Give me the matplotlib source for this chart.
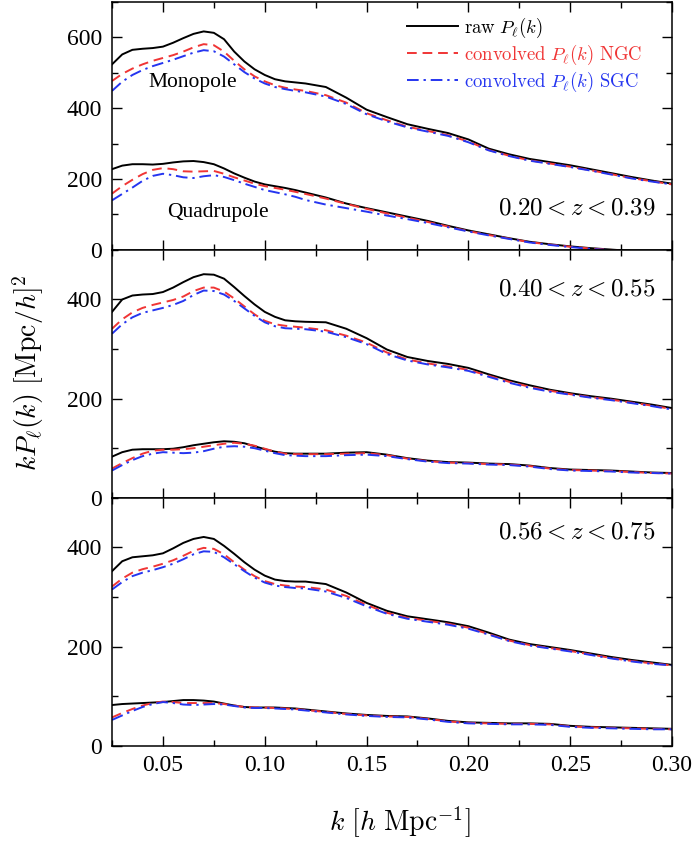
import matplotlib
matplotlib.use("Agg")
import matplotlib.pyplot as plt
from matplotlib.ticker import MultipleLocator

plt.rcParams['mathtext.fontset'] = 'cm'
plt.rcParams['font.family'] = ['Liberation Serif', 'DejaVu Serif']

k = [0.025, 0.030, 0.035, 0.040, 0.045, 0.050, 0.055, 0.060, 0.065, 0.070,
     0.075, 0.080, 0.085, 0.090, 0.095, 0.100, 0.105, 0.110, 0.115, 0.120,
     0.130, 0.140, 0.150, 0.160, 0.170, 0.180, 0.190, 0.200, 0.210, 0.220,
     0.230, 0.240, 0.250, 0.260, 0.270, 0.280, 0.290, 0.300]

# Panel 1: 0.20 < z < 0.39
p1_mono_raw = [524, 552, 565, 568, 570, 574, 585, 598, 610, 617, 613, 595, 560, 532, 510, 494, 482, 476, 473, 470,
               460, 430, 396, 375, 355, 342, 330, 312, 286, 270, 257, 248, 239, 228, 217, 206, 196, 187]
p1_mono_ngc = [477, 497, 512, 524, 534, 542, 550, 560, 572, 581, 578, 560, 534, 510, 490, 476, 465, 458, 453, 449,
               437, 416, 386, 366, 348, 336, 324, 306, 282, 266, 253, 244, 235, 225, 214, 203, 194, 185]
p1_mono_sgc = [449, 475, 494, 508, 519, 528, 537, 547, 557, 564, 561, 546, 524, 502, 484, 470, 460, 454, 449, 445,
               433, 412, 383, 363, 346, 334, 322, 304, 281, 265, 252, 243, 234, 224, 213, 202, 193, 185]
p1_quad_raw = [228, 238, 242, 242, 241, 243, 247, 250, 251, 248, 242, 230, 216, 204, 193, 185, 180, 175, 169, 162,
               148, 131, 118, 106, 94, 82, 68, 55, 44, 33, 23, 16, 10, 5, 1, -3, -8, -13]
p1_quad_ngc = [159, 180, 198, 214, 226, 231, 228, 222, 221, 222, 223, 215, 205, 196, 187, 180, 175, 170, 164, 158,
               145, 130, 116, 103, 91, 79, 66, 53, 42, 32, 22, 15, 9, 4, 0, -4, -9, -14]
p1_quad_sgc = [140, 158, 176, 195, 209, 215, 211, 205, 203, 208, 211, 206, 197, 187, 178, 169, 163, 157, 150, 141,
               128, 118, 108, 97, 87, 76, 64, 52, 41, 31, 21, 14, 8, 3, -1, -5, -10, -15]

# Panel 2: 0.40 < z < 0.55
p2_mono_raw = [375, 400, 408, 410, 411, 415, 424, 435, 445, 451, 450, 442, 425, 407, 390, 375, 365, 358, 356, 355,
               354, 341, 322, 299, 284, 276, 270, 262, 249, 237, 227, 218, 211, 205, 200, 194, 188, 181]
p2_mono_ngc = [341, 360, 374, 383, 389, 394, 399, 406, 417, 424, 424, 416, 402, 386, 370, 357, 350, 347, 345, 343,
               338, 327, 313, 293, 279, 271, 265, 258, 246, 234, 224, 216, 209, 203, 198, 192, 186, 179]
p2_mono_sgc = [331, 350, 364, 373, 378, 383, 389, 397, 409, 418, 417, 410, 397, 382, 367, 354, 346, 342, 341, 340,
               335, 324, 310, 290, 277, 269, 263, 256, 244, 232, 222, 214, 208, 202, 197, 191, 185, 178]
p2_quad_raw = [83, 92, 97, 98, 98, 98, 99, 102, 106, 109, 112, 114, 113, 110, 104, 98, 93, 90, 89, 89,
               89, 91, 92, 87, 80, 75, 72, 71, 69, 68, 65, 60, 57, 56, 55, 53, 51, 50]
p2_quad_ngc = [59, 70, 80, 89, 95, 97, 97, 98, 100, 103, 106, 109, 111, 109, 105, 99, 93, 89, 88, 88,
               88, 89, 90, 86, 79, 74, 71, 70, 68, 67, 64, 59, 56, 55, 54, 52, 50, 49]
p2_quad_sgc = [55, 66, 76, 84, 89, 92, 91, 90, 91, 94, 99, 103, 104, 103, 100, 95, 90, 86, 85, 84,
               84, 86, 87, 84, 78, 73, 70, 69, 67, 66, 63, 58, 55, 54, 53, 51, 50, 49]

# Panel 3: 0.56 < z < 0.75
p3_mono_raw = [352, 372, 380, 382, 384, 388, 398, 409, 417, 421, 417, 403, 387, 370, 355, 343, 335, 332, 331, 331,
               326, 309, 288, 272, 261, 255, 249, 241, 228, 214, 205, 199, 193, 186, 179, 173, 168, 163]
p3_mono_ngc = [321, 337, 349, 356, 361, 367, 374, 383, 393, 399, 397, 386, 370, 355, 342, 332, 326, 323, 321, 320,
               315, 302, 284, 268, 258, 252, 246, 238, 225, 212, 203, 197, 191, 184, 177, 171, 166, 162]
p3_mono_sgc = [315, 330, 342, 349, 354, 360, 367, 376, 386, 392, 391, 380, 366, 352, 339, 329, 323, 320, 318, 317,
               311, 298, 281, 266, 256, 250, 244, 236, 224, 211, 202, 196, 190, 183, 176, 170, 165, 162]
p3_quad_raw = [82, 84, 85, 86, 87, 88, 90, 92, 92, 91, 89, 85, 81, 78, 77, 77, 77, 76, 75, 73,
               69, 65, 62, 60, 59, 55, 50, 47, 46, 45, 45, 44, 40, 38, 37, 36, 35, 34]
p3_quad_ngc = [57, 66, 74, 81, 86, 89, 88, 86, 86, 86, 86, 84, 81, 78, 77, 77, 76, 75, 74, 72,
               68, 64, 61, 59, 58, 54, 49, 46, 45, 44, 44, 43, 39, 37, 36, 35, 34, 33]
p3_quad_sgc = [52, 61, 70, 78, 84, 88, 86, 83, 82, 83, 84, 83, 80, 77, 76, 76, 75, 74, 73, 71,
               67, 63, 60, 58, 57, 53, 48, 45, 44, 43, 43, 42, 38, 36, 35, 34, 33, 33]

z_labels = [r'$0.20 < z < 0.39$', r'$0.40 < z < 0.55$', r'$0.56 < z < 0.75$']
y_max = [700, 500, 500]
y_ticks = [[0, 200, 400, 600], [0, 200, 400], [0, 200, 400]]
x_ticks = [0.05, 0.10, 0.15, 0.20, 0.25, 0.30]
x_ticklabels = ['0.05', '0.10', '0.15', '0.20', '0.25', '0.30']

legend_labels = [r'$\mathrm{raw}\ P_\ell(k)$',
                 r'$\mathrm{convolved}\ P_\ell(k)\ \mathrm{NGC}$',
                 r'$\mathrm{convolved}\ P_\ell(k)\ \mathrm{SGC}$']

panels = [
    (p1_mono_raw, p1_mono_ngc, p1_mono_sgc, p1_quad_raw, p1_quad_ngc, p1_quad_sgc),
    (p2_mono_raw, p2_mono_ngc, p2_mono_sgc, p2_quad_raw, p2_quad_ngc, p2_quad_sgc),
    (p3_mono_raw, p3_mono_ngc, p3_mono_sgc, p3_quad_raw, p3_quad_ngc, p3_quad_sgc),
]

RED = '#f03535'
BLUE = '#2535f0'

fig = plt.figure(figsize=(6.98, 8.42), dpi=100)
left, right = 0.1605, 0.9628
bottom, top = 0.1144, 0.9976
h = (top - bottom) / 3.0
axes = []
for i in range(3):
    ax = fig.add_axes([left, top - (i + 1) * h, right - left, h])
    axes.append(ax)

label_y = [(249 - 208) / 247.0, (497.3 - 289) / 248.0, (745.7 - 533) / 247.0]

for i, (ax, data) in enumerate(zip(axes, panels)):
    mr, mn, ms, qr, qn, qs = data
    for raw, ngc, sgc in ((mr, mn, ms), (qr, qn, qs)):
        l1, = ax.plot(k, raw, color='black', lw=1.4, ls='-')
        l2, = ax.plot(k, ngc, color=RED, lw=1.4, ls=(0, (5, 3)))
        l3, = ax.plot(k, sgc, color=BLUE, lw=1.4, ls=(0, (6, 2.5, 1.2, 2.5)))
    ax.set_xlim(0.025, 0.30)
    ax.set_ylim(0, y_max[i])
    ax.set_yticks(y_ticks[i])
    ax.yaxis.set_minor_locator(MultipleLocator(100))
    ax.set_xticks(x_ticks)
    ax.xaxis.set_minor_locator(MultipleLocator(0.025))
    ax.tick_params(which='both', direction='in', top=True, right=True,
                   width=1.0, labelsize=17, pad=7)
    ax.tick_params(which='major', length=7)
    ax.tick_params(which='minor', length=4)
    for sp in ax.spines.values():
        sp.set_linewidth(1.1)
    if i < 2:
        ax.tick_params(labelbottom=False)
    else:
        ax.set_xticklabels(x_ticklabels)
    ax.text(0.9715, label_y[i], z_labels[i], transform=ax.transAxes,
            ha='right', va='center', fontsize=18)
    if i == 0:
        ax.text(0.0648, 472, 'Monopole', ha='center', va='center', fontsize=15.5)
        ax.text(0.0771, 105, 'Quadrupole', ha='center', va='center', fontsize=15.5)
        leg = ax.legend([l1, l2, l3], legend_labels, loc='upper right',
                        bbox_to_anchor=(0.9476, 0.945), frameon=False, fontsize=13.5,
                        handlelength=2.72, handletextpad=0.32, labelspacing=0.15,
                        borderaxespad=0.0, borderpad=0.0)
        for txt, c in zip(leg.get_texts(), ['black', RED, BLUE]):
            txt.set_color(c)

fig.text(0.04, 0.558, r'$kP_\ell(k)\ [\mathrm{Mpc}/h]^2$', rotation=90,
         ha='center', va='center', fontsize=20)
fig.text(0.573, 0.024, r'$k\ [h\ \mathrm{Mpc}^{-1}]$', ha='center', va='center',
         fontsize=20)

fig.savefig('out.png', dpi=100)
